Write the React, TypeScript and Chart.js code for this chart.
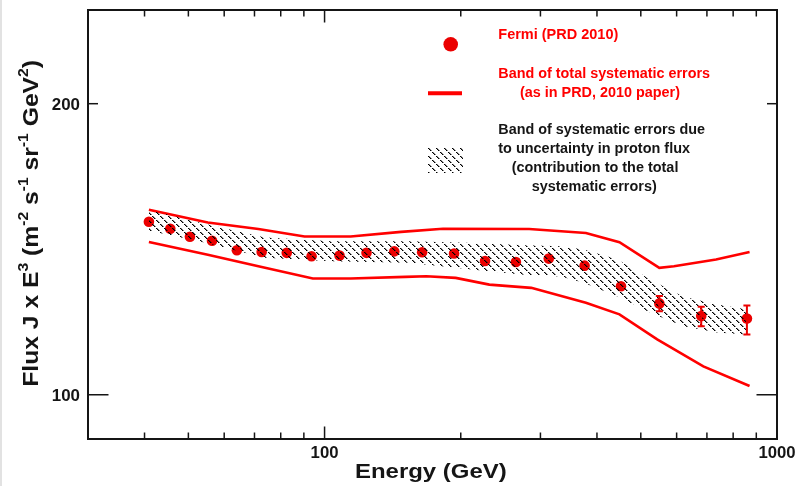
import React, { useEffect, useRef } from "react";
import { Chart, registerables } from "chart.js";

Chart.register(...registerables);

// ---- Data ----
const energies = [40.9, 45.6, 50.4, 56.4, 64.0, 72.6, 82.5, 93.6, 107.9, 123.8, 142.6, 164.3, 193.3, 226.3, 264.8, 313, 375.6, 452, 549.5, 680, 858];
const flux = [151.0, 148.5, 145.7, 144.3, 141.1, 140.5, 140.2, 139.1, 139.3, 140.2, 140.7, 140.4, 140.0, 137.5, 137.2, 138.3, 136.0, 129.5, 124.3, 120.6, 119.9];
const fluxErrLow: (number | null)[] = [null, null, null, null, null, null, null, null, null, null, null, null, null, null, null, null, null, null, 122.0, 117.7, 115.4];
const fluxErrHigh: (number | null)[] = [null, null, null, null, null, null, null, null, null, null, null, null, null, null, null, null, null, null, 126.5, 123.3, 123.7];

const totalUpperE = [40.9, 55.2, 71.4, 90.3, 114.2, 147.6, 182.7, 283.3, 378.1, 448.5, 549.4, 591.9, 733.2, 869.7];
const totalUpperV = [155.4, 150.7, 148.4, 145.8, 145.8, 147.4, 148.5, 148.4, 147.0, 143.8, 135.3, 135.8, 138.0, 140.5];
const totalLowerE = [40.9, 55.2, 71.4, 94.2, 114.2, 150.8, 167.8, 194.9, 231.3, 286.3, 378.1, 448.5, 543.5, 687.4, 869.7];
const totalLowerV = [143.9, 139.6, 135.8, 131.9, 131.9, 132.4, 132.6, 132.1, 130.0, 129.0, 124.5, 121.1, 114.1, 107.0, 102.1];

const protonBandE = [40.9, 52.8, 73.8, 103.6, 153.1, 214.0, 275.7, 332.7, 373.9, 444.2, 525.2, 620.9, 737.6, 858.6];
const protonBandUpper = [155.4, 150.7, 145.4, 144.1, 144.1, 143.5, 142.8, 142.4, 141.3, 138.0, 131.5, 126.3, 124.0, 122.5];
const protonBandLower = [147.8, 144.1, 138.6, 137.4, 136.9, 134.7, 133.1, 132.5, 130.6, 126.4, 121.6, 117.7, 116.0, 115.4];

const xMajorTicks = [100, 1000];
const xMinorTicks = [40, 50, 60, 70, 80, 90, 200, 300, 400, 500, 600, 700, 800, 900];
const yMajorTicks = [100];
const yMinorTicks = [200];
const xTickLabels = ["100", "1000"];
const xTickLabelValues = [100, 1000];
const yTickLabels = ["200", "100"];
const yTickLabelValues = [200, 100];

const RED = "rgb(255,0,0)";
const MARK = "rgb(235,0,0)";
const INK = "#151515";
const FONT = "'Liberation Sans', Arial, Helvetica, sans-serif";

function makeHatch(): CanvasPattern | string {
  const t = document.createElement("canvas");
  t.width = 8;
  t.height = 8;
  const c = t.getContext("2d");
  if (!c) return "rgba(0,0,0,0.3)";
  for (let i = 0; i < 8; i++) {
    if (i === 3 || i === 7) continue;
    c.fillStyle = "rgba(0,0,0,1)";
    c.fillRect(i, i, 1, 1);
    c.fillStyle = "rgba(0,0,0,0.45)";
    c.fillRect((i + 1) % 8, i, 1, 1);
  }
  const p = c.createPattern(t, "repeat");
  return p || "rgba(0,0,0,0.3)";
}

function fitText(ctx: CanvasRenderingContext2D, text: string, x: number, y: number, size: number, width: number, align: CanvasTextAlign, color: string, baseline: CanvasTextBaseline = "alphabetic") {
  ctx.save();
  ctx.font = `bold ${size}px ${FONT}`;
  const w = ctx.measureText(text).width;
  const s = width / w;
  ctx.translate(x, y);
  ctx.scale(s, 1);
  ctx.textAlign = align;
  ctx.textBaseline = baseline;
  ctx.fillStyle = color;
  ctx.fillText(text, 0, 0);
  ctx.restore();
}

export default function App() {
  const ref = useRef<HTMLCanvasElement | null>(null);

  useEffect(() => {
    const canvas = ref.current;
    if (!canvas) return;
    const hatch = makeHatch();

    const decor = {
      id: "decor",
      beforeDraw(chart: any) {
        const ctx = chart.ctx as CanvasRenderingContext2D;
        ctx.save();
        ctx.fillStyle = "#ffffff";
        ctx.fillRect(0, 0, chart.width, chart.height);
        ctx.fillStyle = "#e2e2e2";
        ctx.fillRect(0, 0, 2, chart.height);
        ctx.restore();
      },
      afterDatasetsDraw(chart: any) {
        const ctx = chart.ctx as CanvasRenderingContext2D;
        const xs = chart.scales.x;
        const ys = chart.scales.y;
        ctx.save();
        ctx.strokeStyle = MARK;
        ctx.lineWidth = 2;
        energies.forEach((e, i) => {
          const lo = fluxErrLow[i];
          const hi = fluxErrHigh[i];
          if (lo == null || hi == null) return;
          const px = xs.getPixelForValue(e);
          const y1 = ys.getPixelForValue(hi);
          const y2 = ys.getPixelForValue(lo);
          ctx.beginPath();
          ctx.moveTo(px, y1);
          ctx.lineTo(px, y2);
          ctx.moveTo(px - 3.5, y1);
          ctx.lineTo(px + 3.5, y1);
          ctx.moveTo(px - 3.5, y2);
          ctx.lineTo(px + 3.5, y2);
          ctx.stroke();
        });
        ctx.restore();
      },
      afterDraw(chart: any) {
        const ctx = chart.ctx as CanvasRenderingContext2D;
        const xs = chart.scales.x;
        const ys = chart.scales.y;
        const ca = chart.chartArea;
        ctx.save();
        // frame
        ctx.strokeStyle = INK;
        ctx.lineWidth = 2;
        ctx.strokeRect(ca.left, ca.top, ca.right - ca.left, ca.bottom - ca.top);
        // ticks
        ctx.lineWidth = 1.5;
        const seg = (x1: number, y1: number, x2: number, y2: number) => {
          ctx.beginPath();
          ctx.moveTo(x1, y1);
          ctx.lineTo(x2, y2);
          ctx.stroke();
        };
        const xTick = (v: number, len: number) => {
          const px = xs.getPixelForValue(v);
          seg(px, ca.bottom, px, ca.bottom - len);
          seg(px, ca.top, px, ca.top + len);
        };
        xMinorTicks.forEach((v) => xTick(v, 6.5));
        xMajorTicks.forEach((v) => xTick(v, 12.5));
        const yTick = (v: number, len: number) => {
          const py = ys.getPixelForValue(v);
          seg(ca.left, py, ca.left + len, py);
          seg(ca.right, py, ca.right - len, py);
        };
        yMinorTicks.forEach((v) => yTick(v, 10));
        yMajorTicks.forEach((v) => yTick(v, 20.5));

        // tick labels
        xTickLabels.forEach((t, i) => {
          const px = xs.getPixelForValue(xTickLabelValues[i]);
          fitText(ctx, t, px, 458, 16, t.length * 9.3, "center", INK);
        });
        yTickLabels.forEach((t, i) => {
          const py = ys.getPixelForValue(yTickLabelValues[i]);
          fitText(ctx, t, ca.left - 8, py + 6.5, 16, t.length * 9.4, "right", INK);
        });

        // x title
        fitText(ctx, "Energy (GeV)", 355, 477.5, 21, 151.7, "left", INK);

        // y title with superscripts
        const segs: [string, boolean][] = [
          ["Flux J x E", false], ["3", true], [" (m", false], ["-2", true], [" s", false], ["-1", true],
          [" sr", false], ["-1", true], [" GeV", false], ["2", true], [")", false],
        ];
        const big = 22;
        const small = 14;
        let total = 0;
        segs.forEach(([s, sup]) => {
          ctx.font = `bold ${sup ? small : big}px ${FONT}`;
          total += ctx.measureText(s).width;
        });
        const sc = 326.7 / total;
        ctx.save();
        ctx.translate(37.5, 386.7);
        ctx.rotate(-Math.PI / 2);
        ctx.scale(sc, 1);
        ctx.fillStyle = INK;
        ctx.textBaseline = "alphabetic";
        ctx.textAlign = "left";
        let cx = 0;
        segs.forEach(([s, sup]) => {
          ctx.font = `bold ${sup ? small : big}px ${FONT}`;
          ctx.fillText(s, cx, sup ? -10 : 0);
          cx += ctx.measureText(s).width;
        });
        ctx.restore();

        // legend
        ctx.fillStyle = MARK;
        ctx.beginPath();
        ctx.arc(450.7, 44.3, 7.3, 0, Math.PI * 2);
        ctx.fill();
        fitText(ctx, "Fermi (PRD 2010)", 498.3, 35.5, 14, 120, "left", RED, "middle");

        ctx.strokeStyle = RED;
        ctx.lineWidth = 4;
        seg(428, 93.3, 462, 93.3);
        fitText(ctx, "Band of total systematic errors", 498.3, 73.8, 14, 211.7, "left", RED, "middle");
        fitText(ctx, "(as in PRD, 2010 paper)", 520, 93, 14, 160, "left", RED, "middle");

        ctx.fillStyle = hatch as any;
        ctx.fillRect(428, 148, 35, 25);
        fitText(ctx, "Band of systematic errors due", 498.3, 130.5, 14, 206.7, "left", INK, "middle");
        fitText(ctx, "to uncertainty in proton flux", 498.3, 148.8, 14, 191.7, "left", INK, "middle");
        fitText(ctx, "(contribution to the total", 511.7, 168.5, 14, 166.7, "left", INK, "middle");
        fitText(ctx, "systematic errors)", 531.7, 187, 14, 125, "left", INK, "middle");
        ctx.restore();
      },
    };

    const chart = new Chart(canvas, {
      type: "line",
      data: {
        datasets: [
          {
            label: "Fermi (PRD 2010)",
            data: energies.map((e, i) => ({ x: e, y: flux[i] })),
            showLine: false,
            pointRadius: 5.3,
            pointBackgroundColor: MARK,
            pointBorderWidth: 0,
            borderColor: MARK,
            order: 1,
          },
          {
            label: "total upper",
            data: totalUpperE.map((e, i) => ({ x: e, y: totalUpperV[i] })),
            borderColor: RED,
            borderWidth: 2.6,
            pointRadius: 0,
            tension: 0,
            fill: false,
            order: 2,
          },
          {
            label: "total lower",
            data: totalLowerE.map((e, i) => ({ x: e, y: totalLowerV[i] })),
            borderColor: RED,
            borderWidth: 2.6,
            pointRadius: 0,
            tension: 0,
            fill: false,
            order: 2,
          },
          {
            label: "proton upper",
            data: protonBandE.map((e, i) => ({ x: e, y: protonBandUpper[i] })),
            borderWidth: 0,
            borderColor: "rgba(0,0,0,0)",
            pointRadius: 0,
            tension: 0,
            fill: false,
            order: 0,
          },
          {
            label: "proton lower",
            data: protonBandE.map((e, i) => ({ x: e, y: protonBandLower[i] })),
            borderWidth: 0,
            borderColor: "rgba(0,0,0,0)",
            backgroundColor: hatch as any,
            pointRadius: 0,
            tension: 0,
            fill: "-1",
            order: 0,
          },
        ],
      },
      options: {
        responsive: false,
        animation: false,
        layout: { padding: { left: 88, top: 10, right: 29, bottom: 47 } },
        plugins: { legend: { display: false }, tooltip: { enabled: false }, title: { display: false } },
        scales: {
          x: { type: "logarithmic", min: 30, max: 1000, display: false },
          y: { type: "logarithmic", min: 90, max: 250, display: false },
        },
      },
      plugins: [decor],
    });
    return () => chart.destroy();
  }, []);

  return (
    <div style={{ position: "fixed", left: 0, top: 0, width: 806, height: 486, background: "#fff" }}>
      <canvas ref={ref} width={806} height={486} style={{ display: "block", width: 806, height: 486 }} />
    </div>
  );
}
